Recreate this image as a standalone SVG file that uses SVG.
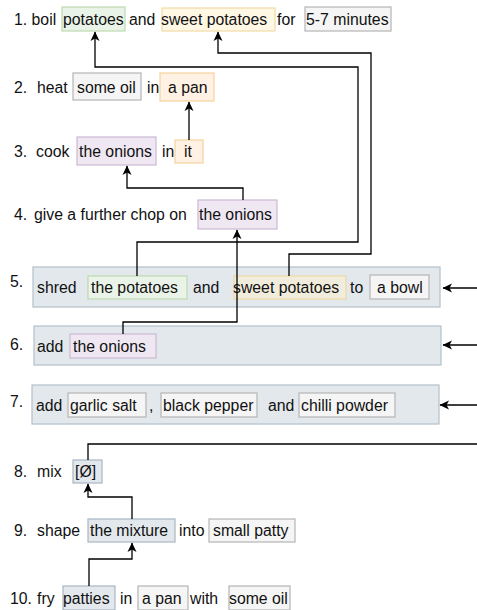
<svg xmlns="http://www.w3.org/2000/svg" width="477" height="610" viewBox="0 0 477 610">
<style>
text{font-family:"Liberation Sans",Arial,sans-serif;font-size:15.8px;fill:#111}
.g{fill:#eaf3e8;stroke:#bcdab0;stroke-width:1.2}
.y{fill:#fff2cc;fill-opacity:.5;stroke:#efd393;stroke-opacity:.8;stroke-width:1.2}
.o{fill:#fff2e5;stroke:#f5d29c;stroke-width:1.2}
.p{fill:#efe8f3;stroke:#cbb8d6;stroke-width:1.2}
.n{fill:#f5f5f5;stroke:#b5b5b5;stroke-width:1.2}
.c{fill:#e3e8ed;stroke:#b3c0cc;stroke-width:1.2}
.b{fill:#e3e8ed;stroke:#a8b6c4;stroke-width:1.2}
.e{fill:none;stroke:#000;stroke-width:1.3}
</style>
<defs>
<marker id="ah" markerWidth="12" markerHeight="12" refX="10" refY="6" orient="auto" markerUnits="userSpaceOnUse">
<path d="M1,1.5 L10.5,6 L1,10.5 L3.5,6 Z" fill="#000"/>
</marker>
</defs>
<g id="step1">
<rect class="g" x="62" y="7" width="63" height="24"/>
<rect class="y" x="162" y="8" width="113" height="23"/>
<rect class="n" x="305" y="7" width="86" height="24"/>
<text x="14" y="24.5">1. boil</text>
<text x="63" y="24.5">potatoes</text>
<text x="129" y="24.5">and</text>
<text x="161" y="24.5">sweet potatoes</text>
<text x="277" y="24.5">for</text>
<text x="306" y="24.5">5-7 minutes</text>
</g>
<g id="step2">
<rect class="n" x="73" y="73" width="68" height="27"/>
<rect class="o" x="160" y="73" width="54" height="28"/>
<text x="14" y="92.5">2.</text>
<text x="37" y="92.5">heat</text>
<text x="77" y="92.5">some oil</text>
<text x="147" y="92.5">in</text>
<text x="168" y="92.5">a pan</text>
</g>
<g id="step3">
<rect class="p" x="77" y="137" width="79" height="28"/>
<rect class="o" x="175" y="140" width="28" height="23"/>
<text x="14" y="157">3.</text>
<text x="36" y="157">cook</text>
<text x="79" y="157">the onions</text>
<text x="162" y="157">in</text>
<text x="184" y="157">it</text>
</g>
<g id="step4">
<rect class="p" x="198" y="200" width="79" height="29"/>
<text x="14" y="220">4.</text>
<text x="34" y="220">give a further chop on</text>
<text x="199" y="220">the onions</text>
</g>
<g id="step5">
<rect class="c" x="33" y="267" width="407" height="40"/>
<rect class="g" x="88" y="276" width="99" height="23"/>
<rect class="y" x="234" y="276" width="112" height="23"/>
<rect class="n" x="370" y="275" width="59" height="24"/>
<text x="10" y="287">5.</text>
<text x="37" y="293">shred</text>
<text x="91" y="293">the potatoes</text>
<text x="193" y="293">and</text>
<text x="233" y="293">sweet potatoes</text>
<text x="350" y="293">to</text>
<text x="377" y="293">a bowl</text>
</g>
<g id="step6">
<rect class="c" x="34" y="326" width="407" height="39"/>
<rect class="p" x="70" y="334" width="86" height="24"/>
<text x="10" y="350">6.</text>
<text x="37" y="351.5">add</text>
<text x="73" y="351.5">the onions</text>
</g>
<g id="step7">
<rect class="c" x="32" y="385" width="407" height="39"/>
<rect class="n" x="68" y="393" width="78" height="24"/>
<rect class="n" x="161" y="393" width="96" height="24"/>
<rect class="n" x="299" y="393" width="96" height="24"/>
<text x="10" y="407">7.</text>
<text x="36" y="410.5">add</text>
<text x="70" y="410.5">garlic salt</text>
<text x="149" y="410.5">,</text>
<text x="163" y="410.5">black pepper</text>
<text x="268" y="410.5">and</text>
<text x="301" y="410.5">chilli powder</text>
</g>
<g id="step8">
<rect class="b" x="73" y="460" width="29" height="23"/>
<text x="14" y="477">8.</text>
<text x="37" y="477">mix</text>
<text x="75" y="477">[Ø]</text>
</g>
<g id="step9">
<rect class="b" x="88" y="519" width="87" height="23"/>
<rect class="n" x="209" y="519" width="86" height="23"/>
<text x="14" y="536">9.</text>
<text x="37" y="536">shape</text>
<text x="90" y="536">the mixture</text>
<text x="179" y="536">into</text>
<text x="213" y="536">small patty</text>
</g>
<g id="step10">
<rect class="b" x="63" y="586" width="52" height="24"/>
<rect class="n" x="138" y="586" width="50" height="24"/>
<rect class="n" x="229" y="586" width="61" height="24"/>
<text x="10" y="603.5">10.</text>
<text x="37" y="603.5">fry</text>
<text x="63" y="603.5">patties</text>
<text x="120" y="603.5">in</text>
<text x="142" y="603.5">a pan</text>
<text x="190" y="603.5">with</text>
<text x="229" y="603.5">some oil</text>
</g>
<g id="connectors">
<path class="e" d="M137,276 V242 H358 V67 H95 V32" marker-end="url(#ah)"/>
<path class="e" d="M289,276 V254 H371 V53 H218 V32" marker-end="url(#ah)"/>
<path class="e" d="M189,140 V102" marker-end="url(#ah)"/>
<path class="e" d="M243,200 V188 H127 V166" marker-end="url(#ah)"/>
<path class="e" d="M123,334 V322 H237 V230" marker-end="url(#ah)"/>
<path class="e" d="M477,288 H443" marker-end="url(#ah)"/>
<path class="e" d="M477,345 H443" marker-end="url(#ah)"/>
<path class="e" d="M477,405 H440" marker-end="url(#ah)"/>
<path class="e" d="M477,444 H88 V460"/>
<path class="e" d="M132,519 V497 H88 V484" marker-end="url(#ah)"/>
<path class="e" d="M89,586 V559 H132 V543" marker-end="url(#ah)"/>
</g>
</svg>
